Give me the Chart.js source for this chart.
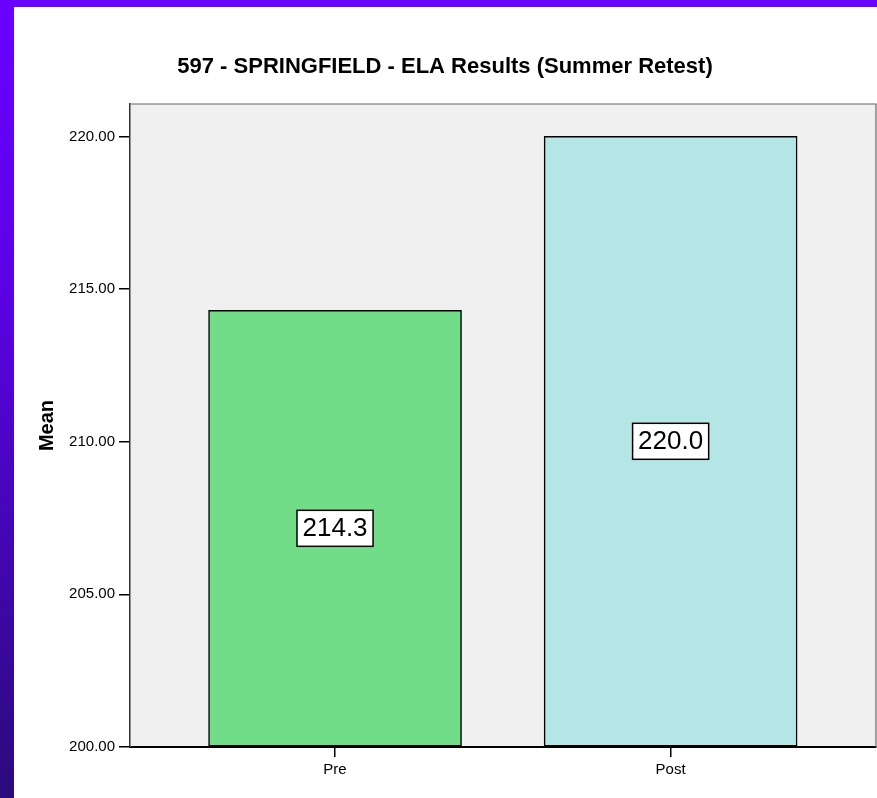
<!DOCTYPE html>
<html>
<head>
<meta charset="utf-8">
<script src="https://cdn.jsdelivr.net/npm/chart.js@4"></script>
<style>
    html, body { margin: 0; padding: 0; }
    body {
        width: 877px;
        height: 798px;
        position: relative;
        overflow: hidden;
        background: linear-gradient(to bottom, #6a00ff 0%, #5c02e6 35%, #4506b8 65%, #34098f 88%, #2c0a7c 100%);
    }
    #topBar {
        position: absolute; left: 0; top: 0; width: 877px; height: 7px;
        background: #6a00ff;
    }
    #panel {
        position: absolute; left: 14px; top: 7px; width: 863px; height: 791px;
        background: #fff;
    }
</style>
</head>
<body>
<div id="topBar"></div>
<div id="panel"><canvas id="grafico" width="863" height="791"></canvas></div>

<script>
// =====================================
// DATOS
// =====================================

const categorias = ["Pre", "Post"];
const medias = [214.3, 220.0];
const ticksY = [200, 205, 210, 215, 220];

const titulo = "597 - SPRINGFIELD - ELA Results (Summer Retest)";
const tituloY = "Mean";
const coloresBarras = ["#72dd88", "#b4e6e6"];

const FUENTE = '"Liberation Sans", Arial, sans-serif';
Chart.defaults.font.family = FUENTE;
Chart.defaults.color = "#000";

// =====================================
// PLUGINS
// =====================================

// fondo gris y marco del area de trazado
const fondoArea = {
    id: "fondoArea",
    beforeDraw(chart) {
        const { ctx, chartArea: a } = chart;
        ctx.save();
        ctx.fillStyle = "#f0f0f0";
        ctx.fillRect(a.left, a.top, a.right - a.left, a.bottom - a.top);
        ctx.restore();
    },
    afterDraw(chart) {
        const { ctx, chartArea: a } = chart;
        ctx.save();
        ctx.strokeStyle = "#666";
        ctx.lineWidth = 1.2;
        ctx.beginPath();
        ctx.moveTo(a.left, a.top);
        ctx.lineTo(a.right, a.top);
        ctx.lineTo(a.right, a.bottom);
        ctx.stroke();
        ctx.restore();
    }
};

// etiqueta con caja blanca en el centro de cada barra
const etiquetasBarras = {
    id: "etiquetasBarras",
    afterDatasetsDraw(chart) {
        const { ctx } = chart;
        const meta = chart.getDatasetMeta(0);
        ctx.save();
        ctx.font = "26px " + FUENTE;
        ctx.textAlign = "center";
        ctx.textBaseline = "middle";
        meta.data.forEach((bar, i) => {
            const { x, y, base } = bar.getProps(["x", "y", "base"], true);
            const cy = (y + base) / 2;
            const texto = medias[i].toFixed(1);
            const w = ctx.measureText(texto).width + 11;
            const h = 36;
            ctx.fillStyle = "#fff";
            ctx.fillRect(x - w / 2, cy - h / 2, w, h);
            ctx.strokeStyle = "#000";
            ctx.lineWidth = 1.5;
            ctx.strokeRect(x - w / 2, cy - h / 2, w, h);
            ctx.fillStyle = "#000";
            ctx.fillText(texto, x, cy + 1);
        });
        ctx.restore();
    }
};

// =====================================
// GRAFICO
// =====================================

new Chart(document.getElementById("grafico"), {
    type: "bar",
    data: {
        datasets: [{
            data: categorias.map((c, i) => ({ x: i, y: medias[i] })),
            base: ticksY[0],
            backgroundColor: coloresBarras,
            borderColor: "#000",
            borderWidth: 1.5,
            borderSkipped: false,
            barThickness: 253
        }]
    },
    options: {
        responsive: false,
        animation: false,
        layout: { padding: { left: 0, right: 1, top: 0, bottom: 0 } },
        plugins: {
            legend: { display: false },
            tooltip: { enabled: false },
            title: {
                display: true,
                text: titulo,
                color: "#000",
                font: { size: 22, weight: "bold" },
                padding: { top: 47, bottom: 23.6 }
            }
        },
        scales: {
            x: {
                type: "linear",
                offset: false,
                min: -0.611,
                max: 1.612,
                afterBuildTicks: scale => {
                    scale.ticks = categorias.map((c, i) => ({ value: i }));
                },
                afterFit: scale => { scale.height = 51; },
                ticks: {
                    font: { size: 15 },
                    color: "#000",
                    padding: 4,
                    maxRotation: 0,
                    callback: v => categorias[v]
                },
                grid: {
                    offset: false,
                    drawOnChartArea: false,
                    color: "#000",
                    lineWidth: 1.5,
                    tickLength: 10
                },
                border: { color: "#000", width: 2 }
            },
            y: {
                min: 200,
                max: 221.06,
                afterBuildTicks: scale => {
                    scale.ticks = ticksY.map(v => ({ value: v }));
                },
                afterFit: scale => { scale.width = 116; },
                ticks: {
                    font: { size: 15 },
                    color: "#000",
                    padding: 4,
                    callback: v => v.toFixed(2)
                },
                grid: {
                    drawOnChartArea: false,
                    color: "#000",
                    lineWidth: 1.5,
                    tickLength: 11
                },
                border: { color: "#333", width: 1.5 },
                title: {
                    display: true,
                    text: tituloY,
                    color: "#000",
                    font: { size: 20, weight: "bold" },
                    padding: { top: 21.5, bottom: 0 }
                }
            }
        }
    },
    plugins: [fondoArea, etiquetasBarras]
});
</script>
</body>
</html>
